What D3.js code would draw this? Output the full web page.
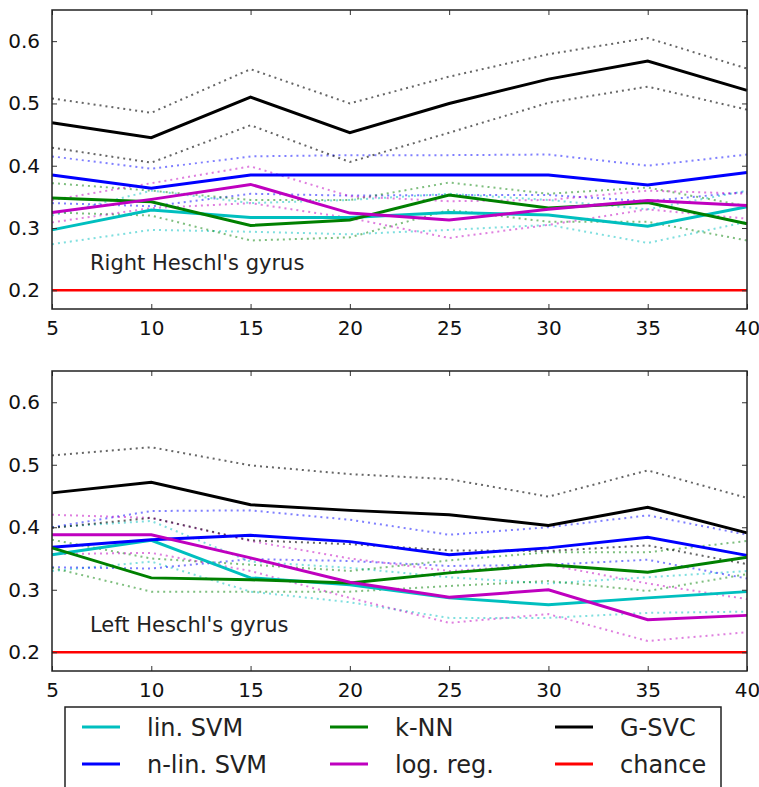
<!DOCTYPE html>
<html>
<head>
<meta charset="utf-8">
<script src="https://cdn.jsdelivr.net/npm/d3@7"></script>
<style>
  body { margin: 0; background: #fff; }
  svg { display: block; font-family: "DejaVu Sans", sans-serif; }
</style>
</head>
<body>
<svg id="chart" width="759" height="787"></svg>
<script>
"use strict";

const K = [5, 10, 15, 20, 25, 30, 35, 40];
const Y_TICKS = [0.2, 0.3, 0.4, 0.5, 0.6];
const CHANCE = 0.2;

// right Heschl's gyrus (top panel)
const rightLinSvm    = [0.297, 0.329, 0.317, 0.317, 0.325, 0.321, 0.303, 0.334];
const rightLinSvmLo  = [0.274, 0.297, 0.294, 0.290, 0.297, 0.305, 0.276, 0.310];
const rightLinSvmHi  = [0.320, 0.360, 0.340, 0.345, 0.355, 0.345, 0.330, 0.360];
const rightNlinSvm   = [0.385, 0.364, 0.385, 0.385, 0.385, 0.385, 0.369, 0.389];
const rightNlinSvmLo = [0.340, 0.335, 0.355, 0.352, 0.353, 0.353, 0.343, 0.358];
const rightNlinSvmHi = [0.415, 0.395, 0.415, 0.417, 0.417, 0.418, 0.400, 0.418];
const rightKnn       = [0.348, 0.342, 0.304, 0.313, 0.353, 0.332, 0.341, 0.307];
const rightKnnLo     = [0.325, 0.320, 0.280, 0.285, 0.329, 0.310, 0.310, 0.280];
const rightKnnHi     = [0.372, 0.360, 0.345, 0.345, 0.373, 0.355, 0.365, 0.335];
const rightLogReg    = [0.325, 0.346, 0.370, 0.324, 0.313, 0.330, 0.344, 0.336];
const rightLogRegLo  = [0.309, 0.332, 0.340, 0.316, 0.284, 0.305, 0.330, 0.315];
const rightLogRegHi  = [0.345, 0.372, 0.399, 0.351, 0.343, 0.345, 0.360, 0.355];
const rightGsvc      = [0.469, 0.445, 0.510, 0.453, 0.500, 0.539, 0.568, 0.521];
const rightGsvcLo    = [0.429, 0.405, 0.465, 0.406, 0.453, 0.501, 0.527, 0.490];
const rightGsvcHi    = [0.508, 0.485, 0.555, 0.500, 0.543, 0.579, 0.605, 0.556];

// left Heschl's gyrus (bottom panel)
const leftLinSvm    = [0.356, 0.379, 0.319, 0.308, 0.287, 0.276, 0.287, 0.297];
const leftLinSvmLo  = [0.330, 0.345, 0.297, 0.280, 0.255, 0.255, 0.263, 0.265];
const leftLinSvmHi  = [0.400, 0.410, 0.345, 0.335, 0.320, 0.310, 0.320, 0.330];
const leftNlinSvm   = [0.368, 0.380, 0.387, 0.377, 0.356, 0.367, 0.384, 0.355];
const leftNlinSvmLo = [0.336, 0.334, 0.349, 0.346, 0.338, 0.340, 0.348, 0.318];
const leftNlinSvmHi = [0.400, 0.426, 0.427, 0.412, 0.388, 0.400, 0.419, 0.388];
const leftKnn       = [0.367, 0.319, 0.316, 0.311, 0.327, 0.340, 0.328, 0.352];
const leftKnnLo     = [0.335, 0.297, 0.297, 0.297, 0.306, 0.314, 0.298, 0.325];
const leftKnnHi     = [0.380, 0.350, 0.340, 0.330, 0.347, 0.360, 0.360, 0.378];
const leftLogReg    = [0.388, 0.388, 0.351, 0.312, 0.288, 0.300, 0.252, 0.259];
const leftLogRegLo  = [0.357, 0.359, 0.330, 0.287, 0.247, 0.261, 0.218, 0.232];
const leftLogRegHi  = [0.420, 0.415, 0.378, 0.350, 0.330, 0.340, 0.310, 0.285];
const leftGsvc      = [0.455, 0.472, 0.436, 0.427, 0.420, 0.403, 0.432, 0.391];
const leftGsvcLo    = [0.399, 0.415, 0.379, 0.373, 0.363, 0.362, 0.371, 0.341];
const leftGsvcHi    = [0.515, 0.528, 0.499, 0.485, 0.477, 0.449, 0.491, 0.447];

const LABELS = ["lin. SVM", "n-lin. SVM", "k-NN", "log. reg.", "G-SVC", "chance"];
const COLORS = ["#00bfbf", "#0000ff", "#008000", "#bf00bf", "#000000", "#ff0000"];

const panelLeft = 52, panelRight = 747;
const panels = [
    {top: 10, bottom: 309, title: "Right Heschl's gyrus",
     series: [[rightLinSvm, rightLinSvmLo, rightLinSvmHi],
              [rightNlinSvm, rightNlinSvmLo, rightNlinSvmHi],
              [rightKnn, rightKnnLo, rightKnnHi],
              [rightLogReg, rightLogRegLo, rightLogRegHi],
              [rightGsvc, rightGsvcLo, rightGsvcHi]]},
    {top: 371, bottom: 671, title: "Left Heschl's gyrus",
     series: [[leftLinSvm, leftLinSvmLo, leftLinSvmHi],
              [leftNlinSvm, leftNlinSvmLo, leftNlinSvmHi],
              [leftKnn, leftKnnLo, leftKnnHi],
              [leftLogReg, leftLogRegLo, leftLogRegHi],
              [leftGsvc, leftGsvcLo, leftGsvcHi]]}
];

const svg = d3.select("#chart");
const xScale = d3.scaleLinear().domain([5, 40]).range([panelLeft, panelRight]);

function drawPanel(p) {
    const yScale = d3.scaleLinear().domain([0.17, 0.65]).range([p.bottom, p.top]);
    const g = svg.append("g");
    const line = d3.line().x((d, i) => xScale(K[i])).y(d => yScale(d));

    // confidence bands as dotted lines first
    p.series.forEach((s, si) => {
        [s[1], s[2]].forEach(band => {
            g.append("path")
                .attr("d", line(band))
                .attr("fill", "none")
                .attr("stroke", COLORS[si])
                .attr("stroke-opacity", si === 4 ? 0.6 : 0.5)
                .attr("stroke-width", 2)
                .attr("stroke-dasharray", "2,4");
        });
    });
    p.series.forEach((s, si) => {
        g.append("path")
            .attr("d", line(s[0]))
            .attr("fill", "none")
            .attr("stroke", COLORS[si])
            .attr("stroke-width", 3)
            .attr("stroke-linejoin", "miter");
    });
    g.append("path")
        .attr("d", line(K.map(() => CHANCE)))
        .attr("fill", "none")
        .attr("stroke", COLORS[5])
        .attr("stroke-width", 2.5);

    g.append("text")
        .attr("x", 90).attr("y", yScale(CHANCE) - 20)
        .attr("font-size", 21).attr("fill", "#222")
        .text(p.title);

    // inward ticks on all four sides
    const ax = (axis, tx, ty) => g.append("g")
        .attr("transform", `translate(${tx},${ty})`)
        .call(axis)
        .call(a => a.select(".domain").remove())
        .call(a => a.selectAll("line").attr("stroke", "#333"));
    const bottomAx = ax(d3.axisBottom(xScale).tickValues(K).tickSize(-5).tickPadding(12), 0, p.bottom);
    bottomAx.selectAll("text").attr("font-size", 20).attr("fill", "#111").attr("font-family", "DejaVu Sans");
    ax(d3.axisTop(xScale).tickValues(K).tickSize(-5).tickFormat(""), 0, p.top);
    const leftAx = ax(d3.axisLeft(yScale).tickValues(Y_TICKS).tickSize(-5).tickPadding(12)
        .tickFormat(d3.format(".1f")), panelLeft, 0);
    leftAx.selectAll("text").attr("font-size", 20).attr("fill", "#111").attr("font-family", "DejaVu Sans");
    ax(d3.axisRight(yScale).tickValues(Y_TICKS).tickSize(-5).tickFormat(""), panelRight, 0);

    g.append("rect")
        .attr("x", panelLeft).attr("y", p.top)
        .attr("width", panelRight - panelLeft).attr("height", p.bottom - p.top)
        .attr("fill", "none").attr("stroke", "#222").attr("stroke-width", 1.5);
}

panels.forEach(drawPanel);

// legend
const legend = svg.append("g");
legend.append("rect")
    .attr("x", 65).attr("y", 707).attr("width", 656).attr("height", 120)
    .attr("fill", "#fff").attr("stroke", "#222").attr("stroke-width", 1.5);
const colX = [82, 330, 555];
const rowY = [727, 764];
LABELS.forEach((lab, i) => {
    const cx = colX[Math.floor(i / 2)], cy = rowY[i % 2];
    legend.append("line")
        .attr("x1", cx).attr("x2", cx + 38).attr("y1", cy).attr("y2", cy)
        .attr("stroke", COLORS[i]).attr("stroke-width", 3);
    legend.append("text")
        .attr("x", cx + 65).attr("y", cy + 9)
        .attr("font-size", 24).attr("fill", "#222")
        .text(lab);
});
</script>
</body>
</html>
